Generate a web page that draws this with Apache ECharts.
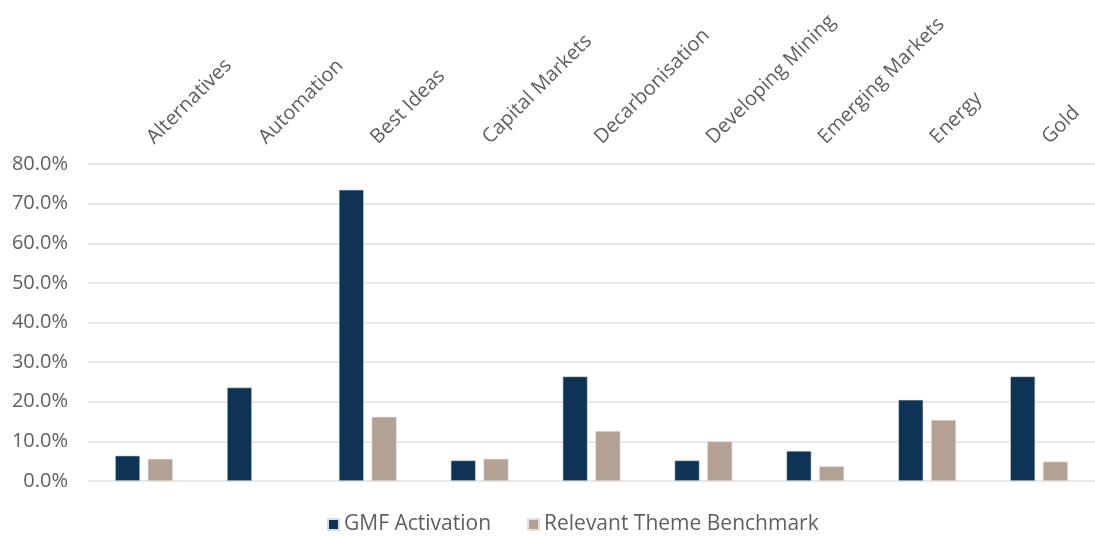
<!DOCTYPE html>
<html>
<head>
<meta charset="utf-8">
<script src="https://cdn.jsdelivr.net/npm/echarts@6/dist/echarts.min.js"></script>
<style>html,body{margin:0;padding:0;background:#fff;overflow:hidden;}#c{width:1095px;height:537px;}</style>
</head>
<body>
<div id="c"></div>
<script>
const categories = ['Alternatives','Automation','Best Ideas','Capital Markets','Decarbonisation','Developing Mining','Emerging Markets','Energy','Gold'];
const gmfActivation = [6.4, 23.6, 73.5, 5.2, 26.4, 5.2, 7.6, 20.5, 26.4];
const themeBenchmark = [5.6, null, 16.2, 5.6, 12.6, 10.0, 3.7, 15.4, 4.9];
const seriesNames = ['GMF Activation', 'Relevant Theme Benchmark'];

const chart = echarts.init(document.getElementById('c'), null, {renderer: 'canvas'});
const txt = '#5f5f5f';
const font = 'Open Sans';
chart.setOption({
  animation: false,
  backgroundColor: '#ffffff',
  textStyle: {fontFamily: font},
  grid: {left: 88, right: -7, top: 164, bottom: 56, containLabel: false},
  legend: {
    bottom: -3, left: 322,
    itemWidth: 11, itemHeight: 11, itemGap: 36, itemTextGap: 4,
    icon: 'rect',
    textStyle: {color: txt, fontSize: 21, fontFamily: font},
    data: seriesNames
  },
  xAxis: {
    type: 'category',
    position: 'top',
    data: categories,
    axisLine: {show: false},
    axisTick: {show: false},
    axisLabel: {rotate: 45, margin: 17, padding: [0, 0, 0, 9], color: txt, fontSize: 20, fontFamily: font, interval: 0}
  },
  yAxis: {
    type: 'value',
    min: 0, max: 80, interval: 10,
    axisLine: {show: false},
    axisTick: {show: false},
    axisLabel: {margin: 20, color: txt, fontSize: 20, fontFamily: font, formatter: v => v.toFixed(1) + '%'},
    splitLine: {lineStyle: {color: '#e0e0e0', width: 1.5}}
  },
  series: [
    {name: seriesNames[0], type: 'bar', data: gmfActivation, barWidth: 25, barGap: '31%',
     itemStyle: {color: '#0e3354', borderColor: '#d6dde6', borderWidth: 0.6}},
    {name: seriesNames[1], type: 'bar', data: themeBenchmark, barWidth: 25, barGap: '31%',
     itemStyle: {color: '#b3a194', borderColor: '#e6dfd9', borderWidth: 0.6}}
  ]
});
</script>
</body>
</html>
